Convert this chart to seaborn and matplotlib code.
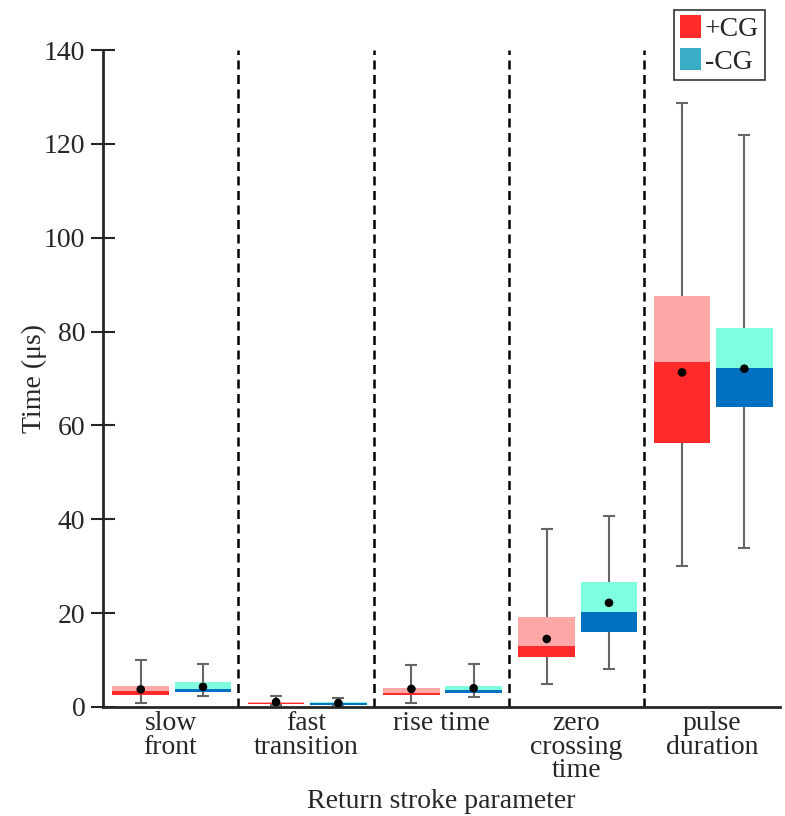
import numpy as np
import pandas as pd
import matplotlib.pyplot as plt
import seaborn as sns
from matplotlib.patches import Patch

# Data (microseconds)
categories = ["slow\nfront", "fast\ntransition", "rise time", "zero\ncrossing\ntime", "pulse\nduration"]
groups = ["+CG", "-CG"]

pos_lo = [0.85, 0.4, 0.9, 4.9, 30.1]
pos_q1 = [2.6, 0.7, 2.6, 10.7, 56.3]
pos_med = [3.3, 0.75, 3.05, 12.9, 73.6]
pos_q3 = [4.5, 1.15, 4.1, 19.1, 87.6]
pos_hi = [10.0, 2.4, 8.95, 37.9, 128.8]
pos_mean = [3.75, 1.07, 3.85, 14.5, 71.3]

neg_lo = [2.35, 0.35, 2.05, 8.1, 33.9]
neg_q1 = [3.15, 0.5, 3.05, 16.05, 63.9]
neg_med = [3.9, 0.75, 3.6, 20.3, 72.2]
neg_q3 = [5.25, 1.0, 4.45, 26.7, 80.8]
neg_hi = [9.15, 2.0, 9.1, 40.8, 121.9]
neg_mean = [4.3, 0.85, 4.0, 22.2, 72.1]

dark_colors = {"+CG": "#ff2a2a", "-CG": "#0070c0"}
light_colors = {"+CG": "#ffa8a8", "-CG": "#80ffe0"}
legend_colors = {"+CG": "#ff2a2a", "-CG": "#3aacc8"}
offsets = {"+CG": -0.22, "-CG": 0.24}

rows = []
for i, cat in enumerate(categories):
    rows.append(dict(cat=cat, group="+CG", lo=pos_lo[i], q1=pos_q1[i], med=pos_med[i],
                     q3=pos_q3[i], hi=pos_hi[i], mean=pos_mean[i]))
    rows.append(dict(cat=cat, group="-CG", lo=neg_lo[i], q1=neg_q1[i], med=neg_med[i],
                     q3=neg_q3[i], hi=neg_hi[i], mean=neg_mean[i]))
df = pd.DataFrame(rows)
df["x"] = df["cat"].map({c: i for i, c in enumerate(categories)}) + df["group"].map(offsets)

sns.set_theme(style="ticks")
plt.rcParams["font.family"] = ["Liberation Serif", "DejaVu Serif"]
plt.rcParams["font.size"] = 20

fig = plt.figure(figsize=(7.85, 8.16), dpi=100)
ax = fig.add_axes([0.131, 0.1336, 0.862, 0.805])

width = 0.42
cap = 0.09
for _, r in df.iterrows():
    ax.vlines(r["x"], r["lo"], r["q1"], color="#666666", lw=1.5, zorder=1)
    ax.vlines(r["x"], r["q3"], r["hi"], color="#666666", lw=1.5, zorder=1)
    ax.hlines([r["lo"], r["hi"]], r["x"] - cap / 2, r["x"] + cap / 2, color="#666666", lw=1.5, zorder=1)
    ax.bar(r["x"], r["med"] - r["q1"], bottom=r["q1"], width=width,
           color=dark_colors[r["group"]], edgecolor="none", zorder=2)
    ax.bar(r["x"], r["q3"] - r["med"], bottom=r["med"], width=width,
           color=light_colors[r["group"]], edgecolor="none", zorder=2)

sns.scatterplot(data=df, x="x", y="mean", color="black", s=38, edgecolor="none",
                ax=ax, zorder=5, legend=False)

for b in range(1, len(categories)):
    ax.axvline(b - 0.5, color="black", lw=1.8, ls=(0, (3.6, 2.2)), zorder=0)

ax.set_xlim(-0.5, len(categories) - 0.5)
ax.set_ylim(0, 140)
ax.set_yticks(np.arange(0, 141, 20))
ax.set_xticks(range(len(categories)))
ax.set_xticklabels(categories, linespacing=0.93, va="top")
ax.tick_params(axis="y", direction="inout", length=17, width=1.5, labelsize=20, pad=4)
ax.tick_params(axis="x", length=0, labelsize=20, pad=3)
sns.despine(ax=ax, top=True, right=True)
ax.spines["left"].set_linewidth(2)
ax.spines["bottom"].set_linewidth(2)

ax.set_xlabel("Return stroke parameter", fontsize=20, labelpad=4)
ax.set_ylabel("Time (μs)", fontsize=20, labelpad=-2)

handles = [Patch(facecolor=legend_colors[g], edgecolor="none") for g in groups]
leg = ax.legend(handles, groups, loc="upper right", bbox_to_anchor=(0.974, 0.988),
                bbox_transform=fig.transFigure, frameon=True, fancybox=False,
                edgecolor="#333333", framealpha=1, fontsize=20, handlelength=0.75,
                handleheight=0.85, handletextpad=0.15, borderpad=0.2, labelspacing=0.22,
                borderaxespad=0)
leg.get_frame().set_linewidth(1.2)

fig.savefig("out.png", dpi=100)
